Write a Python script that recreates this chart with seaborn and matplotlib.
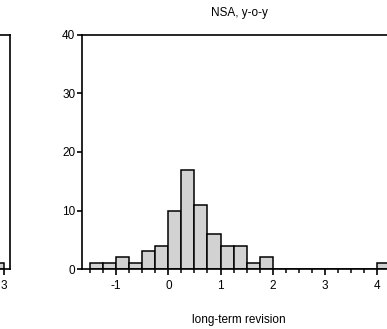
import numpy as np
import pandas as pd
import matplotlib
matplotlib.use("Agg")
import matplotlib.pyplot as plt
from matplotlib.ticker import MultipleLocator
import seaborn as sns

# Histogram of long-term revisions (NSA, y-o-y), bin width 0.25
bin_left = [-1.5, -1.25, -1.0, -0.75, -0.5, -0.25, 0.0, 0.25, 0.5, 0.75,
            1.0, 1.25, 1.5, 1.75, 4.0]
counts = [1, 1, 2, 1, 3, 4, 10, 17, 11, 6, 4, 4, 1, 2, 1]

# Neighbouring panel: only its last bin falls inside the frame
prev_bin_left = [2.75]
prev_counts = [1]

bin_width = 0.25
y_ticks = [0, 10, 20, 30, 40]
x_ticks = [-1, 0, 1, 2, 3, 4]

sns.set_theme(style="ticks")
plt.rcParams["font.family"] = ["Liberation Sans", "DejaVu Sans"]
plt.rcParams["axes.unicode_minus"] = False

W, H = 387, 329
fig = plt.figure(figsize=(W / 100, H / 100), dpi=100)


def px_axes(left, right, bottom, top):
    return fig.add_axes([left / W, 1 - bottom / H, (right - left) / W, (bottom - top) / H])


fill = "#d2d2d2"
lw = 1.2


def style(ax, xlim):
    ax.set_yticks(y_ticks)
    ax.set_xticks([t for t in x_ticks if xlim[0] <= t <= xlim[1]])
    ax.xaxis.set_minor_locator(MultipleLocator(0.25))
    ax.set_xlim(*xlim)
    ax.set_ylim(0, 40)
    for s in ax.spines.values():
        s.set_visible(True)
        s.set_linewidth(lw)
        s.set_color("black")
    ax.tick_params(axis="x", which="major", length=4.3, width=lw, pad=3.5,
                   labelsize=8.5, colors="black", direction="out")
    ax.tick_params(axis="x", which="minor", length=2.8, width=lw * 0.9,
                   direction="out", colors="black")
    ax.tick_params(axis="y", which="major", length=3.4, width=lw, pad=1.5,
                   labelsize=8.5, colors="black", direction="out")
    ax.set_ylabel("")
    ax.grid(False)


def draw_hist(ax, lefts, vals):
    df = pd.DataFrame({"x": [v + bin_width / 2 for v in lefts],
                       "n": [float(c) for c in vals]})
    sns.histplot(data=df, x="x", weights="n", binwidth=bin_width,
                 binrange=(min(lefts), max(lefts) + bin_width), ax=ax,
                 color=fill, edgecolor="black", linewidth=1.1, alpha=1)


# left neighbour panel (mostly outside the canvas)
ax0 = px_axes(-239, 10, 269, 35)
draw_hist(ax0, prev_bin_left, prev_counts)
style(ax0, (-1.653, 3.115))
ax0.set_xlabel("")

# main panel
ax = px_axes(82, 396, 269, 35)
draw_hist(ax, bin_left, counts)
style(ax, (-1.653, 4.36))
ax.set_xlabel("long-term revision", fontsize=8.5, labelpad=16, color="black")
ax.set_title("NSA, y-o-y", fontsize=8.5, pad=14, color="black")

fig.savefig("out.png", dpi=100)
